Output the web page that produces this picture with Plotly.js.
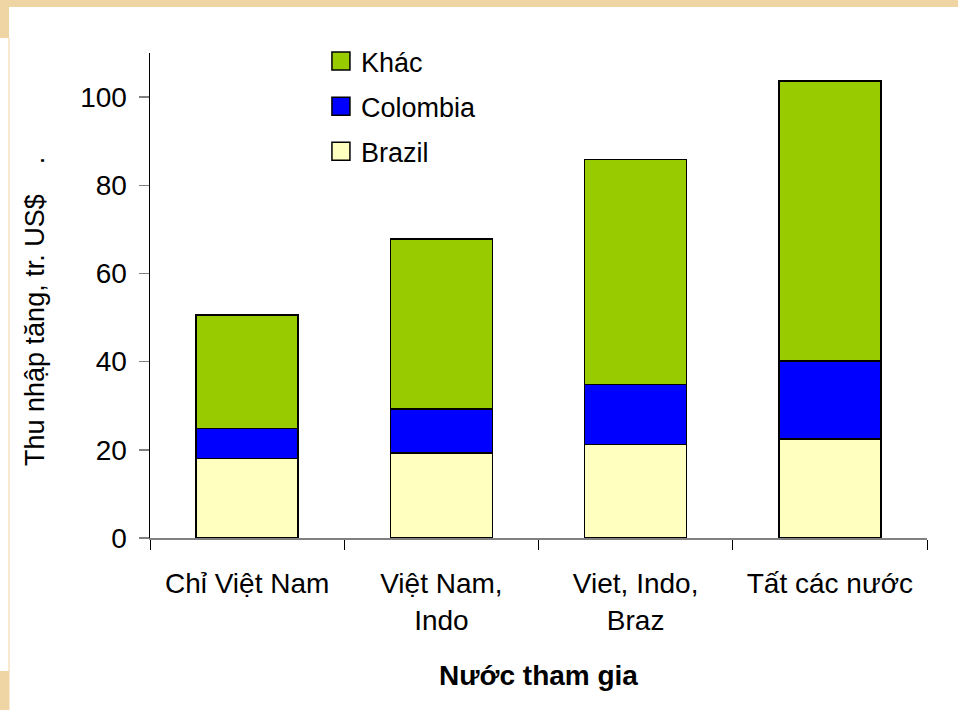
<!DOCTYPE html>
<html>
<head>
<meta charset="utf-8">
<script src="https://cdn.plot.ly/plotly-3.0.1.min.js"></script>
<style>html,body{margin:0;padding:0;background:#fff;}#chart{width:958px;height:710px;}</style>
</head>
<body>
<div id="chart"></div>
<script>
var categories = ["Chỉ Việt Nam", "Việt Nam,<br>Indo", "Viet, Indo,<br>Braz", "Tất các nước"];
var brazil = [18.0, 19.3, 21.2, 22.4];
var colombia = [6.8, 10.0, 13.6, 17.7];
var khac = [25.8, 38.5, 51.1, 63.5];
var seriesNames = ["Brazil", "Colombia", "Khác"];
var yTicks = [0, 20, 40, 60, 80, 100];
var yTitle = "Thu nhập tăng, tr. US$\u00A0\u00A0\u00A0\u00A0.";
var xTitle = "Nước tham gia";

var FONT = "Arial, 'Liberation Sans', sans-serif";
var lineStyle = {color: "#000", width: 1.5};
function bar(name, vals, color, grp, rank) {
  return {type: "bar", name: name, x: categories, y: vals, legendgroup: grp, legendrank: rank,
          marker: {color: color, line: lineStyle}, hoverinfo: "none"};
}
var traces = [
  bar(seriesNames[0], brazil, "#FFFFC0", "c", 3),
  bar(seriesNames[1], colombia, "#0000FF", "b", 2),
  bar(seriesNames[2], khac, "#99CC00", "a", 1)
];

var tan = "#EFD5A3";
function py(p) { return (538 - p) / 485; }
function px(p) { return (p - 150) / 777; }
var layout = {
  width: 958, height: 710,
  margin: {l: 150, r: 31, t: 53, b: 172},
  paper_bgcolor: "#fff", plot_bgcolor: "#fff",
  barmode: "stack", bargap: 0.475,
  font: {family: FONT, color: "#000", size: 28},
  showlegend: true,
  legend: {x: 0.22, xanchor: "left", y: 1.033, yanchor: "top",
           traceorder: "grouped", tracegroupgap: 7,
           font: {size: 27, family: FONT}, bgcolor: "rgba(0,0,0,0)"},
  xaxis: {type: "category", tickson: "boundaries", ticks: "outside", ticklen: 10,
          tickcolor: "#000", tickwidth: 1, showline: true, linecolor: "#808080", linewidth: 1.5,
          showgrid: false, zeroline: false, ticklabelstandoff: 20,
          tickfont: {size: 28}, fixedrange: true,
          title: {text: "<b>" + xTitle + "</b>", font: {size: 28}, standoff: 31}},
  yaxis: {range: [0, 110], tickvals: yTicks, ticktext: yTicks.map(String), ticks: "outside", ticklen: 10,
          tickcolor: "#808080", tickwidth: 1.5, showline: true, linecolor: "#000", linewidth: 1.5,
          showgrid: false, zeroline: false, ticklabelstandoff: 6, tickfont: {size: 28}, fixedrange: true},
  annotations: [{text: yTitle, xref: "paper", yref: "paper", x: px(35), y: py(312),
                 xanchor: "center", yanchor: "middle", textangle: -90, showarrow: false,
                 font: {size: 27, family: FONT}}],
  shapes: [
    {type: "rect", xref: "paper", yref: "paper", x0: px(0), x1: px(958), y0: py(0), y1: py(7), fillcolor: tan, line: {width: 0}, layer: "below"},
    {type: "rect", xref: "paper", yref: "paper", x0: px(0), x1: px(9), y0: py(0), y1: py(38), fillcolor: tan, line: {width: 0}, layer: "below"},
    {type: "rect", xref: "paper", yref: "paper", x0: px(8.5), x1: px(9.5), y0: py(38), y1: py(671), fillcolor: tan, line: {width: 0}, layer: "below"},
    {type: "rect", xref: "paper", yref: "paper", x0: px(0), x1: px(9.5), y0: py(671), y1: py(710), fillcolor: tan, line: {width: 0}, layer: "below"}
  ]
};
Plotly.newPlot("chart", traces, layout, {displayModeBar: false, staticPlot: true}).then(function (gd) {
  gd.querySelectorAll(".legend .legendpoints path").forEach(function (p) {
    p.setAttribute("d", "M9,9H-9V-9H9Z");
  });
});
</script>
</body>
</html>
